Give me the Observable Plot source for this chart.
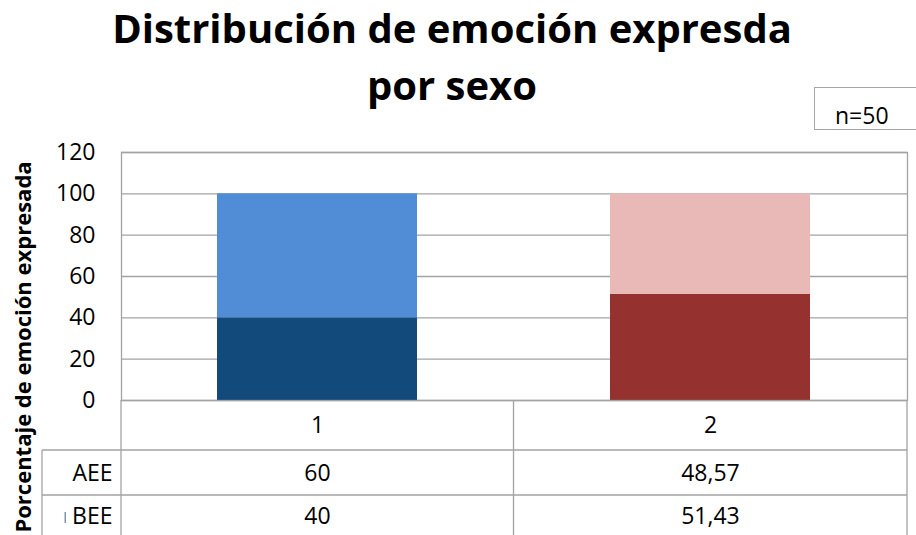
<!DOCTYPE html>
<html><head><meta charset="utf-8">
<script src="https://cdn.jsdelivr.net/npm/d3@7"></script>
<script src="https://cdn.jsdelivr.net/npm/@observablehq/plot@0.6"></script>
<style>
html,body{margin:0;padding:0;background:#fff;}
#wrap{position:relative;width:916px;height:535px;overflow:hidden;font-family:"Open Sans",sans-serif;}
#wrap svg{position:absolute;left:0;top:0;}
.t{position:absolute;left:0;width:904px;text-align:center;font-weight:bold;font-size:40px;line-height:57px;color:#000;white-space:nowrap;}
#nbox{position:absolute;left:814px;top:87px;width:130px;height:43px;border:1.5px solid #a6a6a6;box-sizing:border-box;background:#fff;}
#ntext{position:absolute;left:835px;top:100px;font-size:23px;line-height:31px;color:#000;}
</style>
</head><body>
<div id="wrap"></div>
<script>
// ---- data ----
const titulo1 = "Distribución de emoción expresda";
const titulo2 = "por sexo";
const nTexto = "n=50";
const ejeY = "Porcentaje de emoción expresada";
const categorias = ["1", "2"];
const series = ["BEE", "AEE"];        // stacking order: bottom to top
const filasTabla = ["AEE", "BEE"];     // data-table row order
const BEE = [40, 51.43];
const AEE = [60, 48.57];
const yTicks = [0, 20, 40, 60, 80, 100, 120];

// ---- styles ----
const colores = {
  "1": {BEE: "#114a7b", AEE: "#508dd6"},
  "2": {BEE: "#953230", AEE: "#e8b9b7"}
};
const gris = "#a3a3a3";
const valores = {BEE, AEE};
const fmt = v => String(v).replace(".", ",");

const rows = categorias.flatMap((c, i) => series.map(s => ({cat: c, serie: s, valor: valores[s][i]})));

const W = 916, H = 535, mT = 152, mB = 135, mL = 121, mR = 9;
const rowDy = {header: 25, AEE: 73, BEE: 116.5};

const plot = Plot.plot({
  width: W, height: H,
  marginTop: mT, marginBottom: mB, marginLeft: mL, marginRight: mR,
  style: {fontFamily: "'Open Sans', sans-serif", fontSize: "23px", background: "transparent", color: "#000", overflow: "visible"},
  x: {type: "band", domain: categorias, paddingInner: 0.49, paddingOuter: 0.245, axis: null},
  y: {domain: [0, 120], axis: null},
  color: {type: "identity"},
  marks: [
    Plot.gridY(yTicks, {stroke: gris, strokeOpacity: 1, strokeWidth: 1.3}),
    Plot.barY(rows, Plot.stackY({x: "cat", y: "valor", fill: d => colores[d.cat][d.serie]})),
    Plot.frame({stroke: gris, strokeWidth: 1.3}),
    Plot.axisY(yTicks, {anchor: "left", tickSize: 0, tickPadding: 26, fontSize: 23, label: null, tickFormat: d => d}),
    Plot.text(categorias, {x: d => d, text: d => d, frameAnchor: "bottom", dy: rowDy.header, lineAnchor: "middle", fontSize: 23}),
    ...filasTabla.map(s => Plot.text(categorias, {x: d => d, text: (d, i) => fmt(valores[s][i]), frameAnchor: "bottom", dy: rowDy[s], lineAnchor: "middle", fontSize: 23})),
    ...filasTabla.map(s => Plot.text([s], {text: d => d, frameAnchor: "bottom-left", textAnchor: "end", dx: -9, dy: rowDy[s], lineAnchor: "middle", fontSize: 23}))
  ]
});

// data-table grid lines, positioned from the x scale
const xs = plot.scale("x");
const svg = d3.select(plot);
const g = svg.append("g").attr("stroke", gris).attr("stroke-width", 1.3);
const x0 = xs.range[0], x1 = xs.range[1];
const bounds = [x0, ...categorias.slice(0, -1).map(c => xs.apply(c) + xs.bandwidth + (xs.step - xs.bandwidth) / 2), x1];
const yBottom = H - mB, labelLeft = 42;
const hLines = [yBottom + 50, yBottom + 95];
bounds.forEach(x => g.append("line").attr("x1", x).attr("x2", x).attr("y1", yBottom).attr("y2", H));
g.append("line").attr("x1", labelLeft).attr("x2", labelLeft).attr("y1", hLines[0]).attr("y2", H);
hLines.forEach(y => g.append("line").attr("x1", labelLeft).attr("x2", x1).attr("y1", y).attr("y2", y));
// legend key next to BEE
svg.append("rect").attr("x", 64.5).attr("y", 512).attr("width", 1.5).attr("height", 11).attr("fill", "#7f95b8");
// y-axis title
svg.append("text").attr("transform", "translate(22,347) rotate(-90)")
  .attr("text-anchor", "middle").attr("dominant-baseline", "central")
  .attr("font-weight", "bold").attr("font-size", 22).text(ejeY);

const wrap = document.getElementById("wrap");
wrap.appendChild(plot);
const t1 = document.createElement("div"); t1.className = "t"; t1.style.top = "-1px"; t1.textContent = titulo1;
const t2 = document.createElement("div"); t2.className = "t"; t2.style.top = "56px"; t2.textContent = titulo2;
const nb = document.createElement("div"); nb.id = "nbox";
const nt = document.createElement("div"); nt.id = "ntext"; nt.textContent = nTexto;
[t1, t2, nb, nt].forEach(e => wrap.appendChild(e));
</script>
</body></html>
